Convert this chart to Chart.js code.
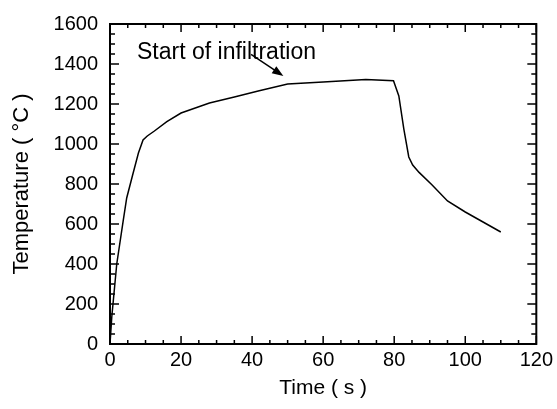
<!DOCTYPE html>
<html>
<head>
<meta charset="utf-8">
<script src="https://cdn.jsdelivr.net/npm/chart.js@4"></script>
<style>
  html, body { margin: 0; padding: 0; background: #fff; }
  #wrap { width: 557px; height: 409px; }
</style>
</head>
<body>
<div id="wrap"><canvas id="tempChart"></canvas></div>
<script>
// time (s) and temperature (deg C)
const timeS = [0, 0.5, 1.9, 3.7, 4.7, 6.3, 8, 9.3, 10.5, 12.5, 16, 20, 28, 35, 42, 50, 60, 72, 79.8,
  81.3, 82.7, 84.1, 85.2, 87, 90.6, 95, 100, 104, 110];
const tempC = [0, 135, 400, 614, 730, 840, 955, 1020, 1040, 1065, 1112, 1155, 1205, 1235, 1266, 1300, 1310, 1322, 1316,
  1240, 1076, 935, 895, 858, 796, 715, 660, 620, 560];

const xTicks = [0, 20, 40, 60, 80, 100, 120];
const yTicks = [0, 200, 400, 600, 800, 1000, 1200, 1400, 1600];

// annotation: label position and arrow (data units)
const noteText = "Start of infiltration";
const notePos = [7.6, 1426];
const arrowFrom = [39.7, 1448];
const arrowTo = [48.8, 1340];

const FONT = "'Liberation Sans', Arial, sans-serif";

// box, inward ticks on all four sides, and the annotation
const framePlugin = {
  id: "frame",
  afterDatasetsDraw(chart) {
    const { ctx, chartArea: a, scales } = chart;
    const x = scales.x, y = scales.y;
    ctx.save();
    ctx.strokeStyle = "#000";
    ctx.lineWidth = 1.5;
    for (let v = 0; v <= 120; v += 5) {
      const px = x.getPixelForValue(v);
      const len = v % 20 === 0 ? 8 : 4;
      ctx.beginPath();
      ctx.moveTo(px, a.bottom); ctx.lineTo(px, a.bottom - len);
      ctx.moveTo(px, a.top); ctx.lineTo(px, a.top + len);
      ctx.stroke();
    }
    for (let v = 0; v <= 1600; v += 50) {
      const py = y.getPixelForValue(v);
      const len = v % 200 === 0 ? 9 : 5;
      ctx.beginPath();
      ctx.moveTo(a.left, py); ctx.lineTo(a.left + len, py);
      ctx.moveTo(a.right, py); ctx.lineTo(a.right - len, py);
      ctx.stroke();
    }
    ctx.lineWidth = 2;
    ctx.strokeRect(a.left, a.top, a.right - a.left, a.bottom - a.top);

    // annotation text
    ctx.fillStyle = "#000";
    ctx.font = "23px " + FONT;
    ctx.textBaseline = "alphabetic";
    ctx.fillText(noteText, x.getPixelForValue(notePos[0]), y.getPixelForValue(notePos[1]));

    // arrow
    const x1 = x.getPixelForValue(arrowFrom[0]), y1 = y.getPixelForValue(arrowFrom[1]);
    const x2 = x.getPixelForValue(arrowTo[0]), y2 = y.getPixelForValue(arrowTo[1]);
    const ang = Math.atan2(y2 - y1, x2 - x1);
    const head = 12;
    ctx.lineWidth = 1.5;
    ctx.beginPath();
    ctx.moveTo(x1, y1);
    ctx.lineTo(x2 - head * 0.8 * Math.cos(ang), y2 - head * 0.8 * Math.sin(ang));
    ctx.stroke();
    ctx.beginPath();
    ctx.moveTo(x2, y2);
    ctx.lineTo(x2 - head * Math.cos(ang - 0.35), y2 - head * Math.sin(ang - 0.35));
    ctx.lineTo(x2 - head * Math.cos(ang + 0.35), y2 - head * Math.sin(ang + 0.35));
    ctx.closePath();
    ctx.fill();
    ctx.restore();
  }
};

const points = timeS.map((t, i) => ({ x: t, y: tempC[i] }));

new Chart(document.getElementById("tempChart"), {
  type: "scatter",
  data: {
    datasets: [{
      data: points,
      showLine: true,
      borderColor: "#000",
      borderWidth: 1.5,
      pointRadius: 0,
      tension: 0
    }]
  },
  options: {
    responsive: true,
    maintainAspectRatio: false,
    animation: false,
    events: [],
    layout: { padding: { top: 21, right: 19, left: 0, bottom: 0 } },
    plugins: { legend: { display: false }, tooltip: { enabled: false } },
    scales: {
      x: {
        type: "linear",
        min: 0,
        max: 120,
        afterBuildTicks(scale) { scale.ticks = xTicks.map(v => ({ value: v })); },
        afterFit(scale) { scale.height = 65; },
        grid: { display: false, drawTicks: false },
        border: { display: false },
        ticks: { color: "#000", padding: 4, callback: v => String(v), font: { family: FONT, size: 20 } },
        title: {
          display: true,
          text: "Time ( s )",
          color: "#000",
          padding: { top: 8, bottom: 8 },
          font: { family: FONT, size: 21 }
        }
      },
      y: {
        type: "linear",
        min: 0,
        max: 1600,
        afterBuildTicks(scale) { scale.ticks = yTicks.map(v => ({ value: v })); },
        afterFit(scale) { scale.width = 110; },
        grid: { display: false, drawTicks: false },
        border: { display: false },
        ticks: { color: "#000", padding: 12, callback: v => String(v), font: { family: FONT, size: 20 } },
        title: {
          display: true,
          text: "Temperature ( °C )",
          color: "#000",
          padding: { top: 9, bottom: 9 },
          font: { family: FONT, size: 22 }
        }
      }
    }
  },
  plugins: [framePlugin]
});
</script>
</body>
</html>
